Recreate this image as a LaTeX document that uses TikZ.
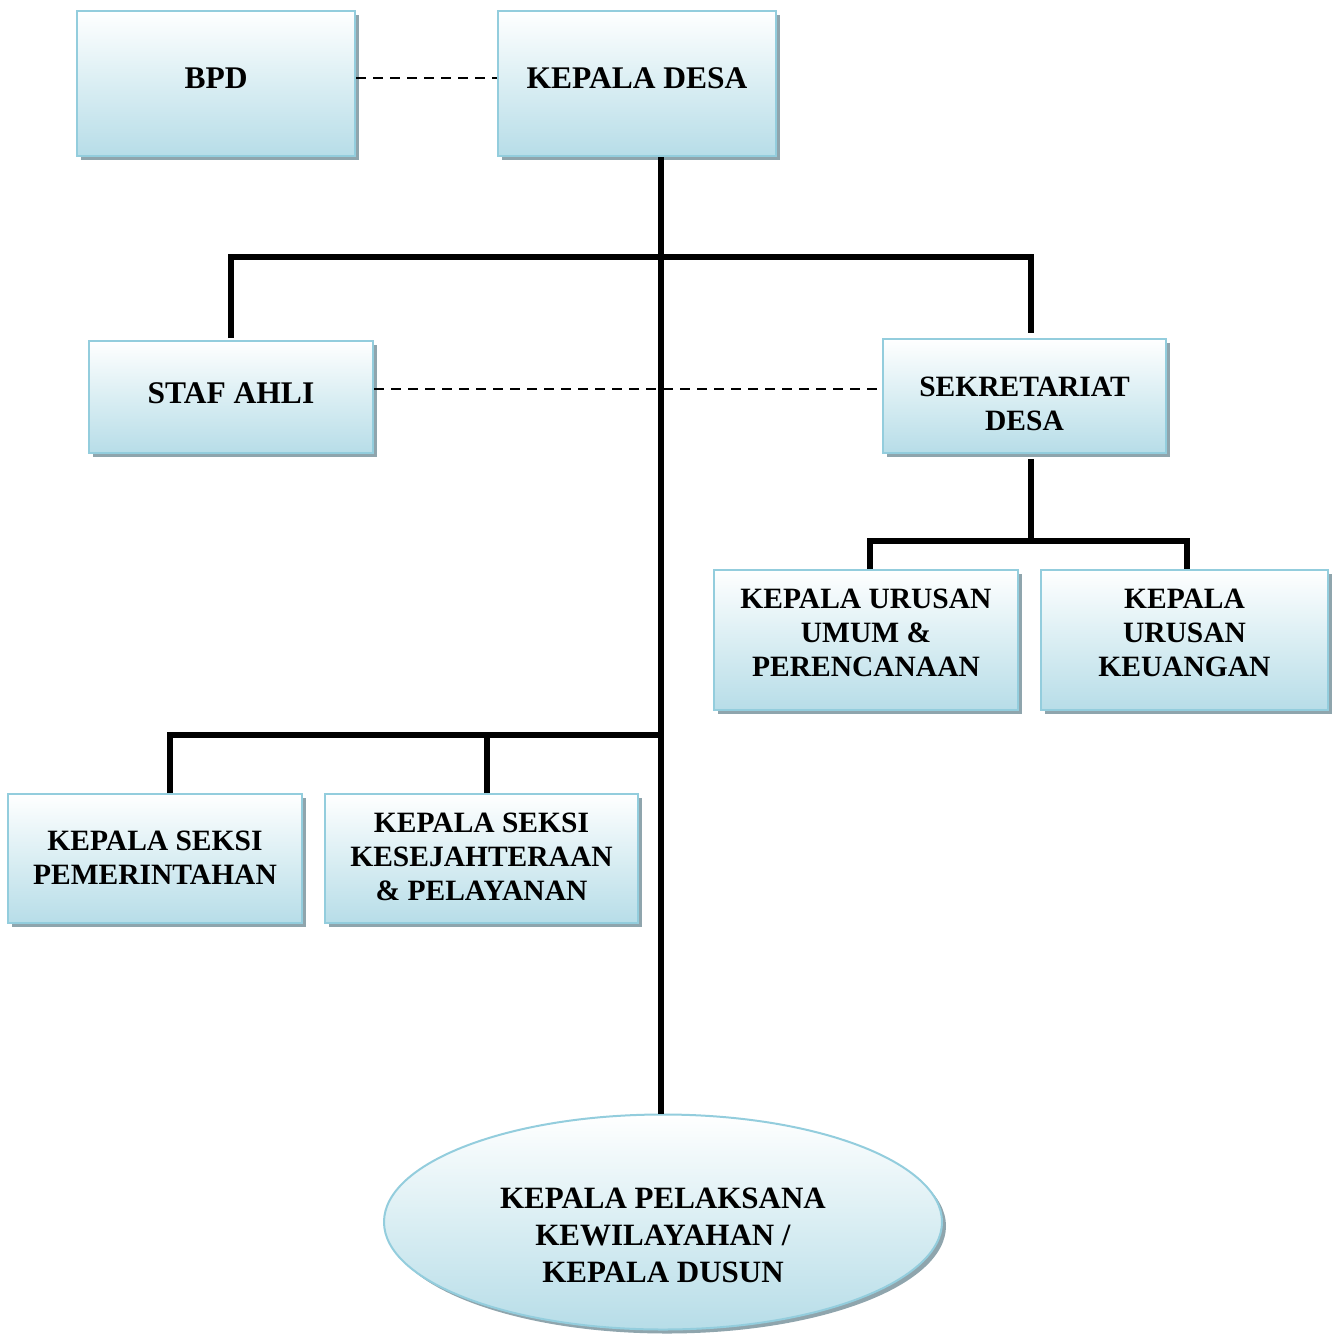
\documentclass[tikz,border=0pt]{standalone}
\usepackage{fontspec}
\setmainfont{Liberation Serif}
\usetikzlibrary{shapes.geometric,shadows}
\definecolor{boxblue}{HTML}{B7DDE8}
\definecolor{boxmid}{HTML}{DAEEF3}
\definecolor{boxborder}{HTML}{93CDDD}
\definecolor{shadowc}{HTML}{8FA5AD}
\tikzset{
  orgbox/.style={rectangle, draw=boxborder, line width=2pt,
    top color=white, bottom color=boxblue, middle color=boxmid,
    drop shadow={shadow xshift=4pt, shadow yshift=-4pt, fill=shadowc, opacity=1},
    inner sep=0pt},
  boxtext/.style={align=center, inner sep=0pt, font=\fontsize{29.5}{34}\selectfont\bfseries},
  bigtext/.style={align=center, inner sep=0pt, font=\fontsize{31.5}{36}\selectfont\bfseries},
  elltext/.style={align=center, inner sep=0pt, font=\fontsize{31}{37}\selectfont\bfseries},
  conn/.style={line width=5.5pt, draw=black},
  dashconn/.style={line width=2.8pt, draw=black, dash pattern=on 10pt off 7pt},
}
\begin{document}
\begin{tikzpicture}[x=1pt,y=-1pt]
\useasboundingbox (0,0) rectangle (1334,1334);
% boxes
\node[orgbox, minimum width=278pt, minimum height=145pt,
  label={[bigtext, yshift=5pt]center:BPD}] (bpd) at (216,83.5) {};
\node[orgbox, minimum width=278pt, minimum height=145pt,
  label={[bigtext, yshift=5pt]center:KEPALA DESA}] (kades) at (637,83.5) {};
\node[orgbox, minimum width=284pt, minimum height=112pt,
  label={[bigtext, yshift=4pt]center:STAF AHLI}] (staf) at (231,397) {};
\node[orgbox, minimum width=283pt, minimum height=114pt,
  label={[boxtext, yshift=-8pt]center:SEKRETARIAT\\DESA}] (sek) at (1024.5,396) {};
\node[orgbox, minimum width=304pt, minimum height=140pt,
  label={[boxtext, yshift=7pt]center:KEPALA URUSAN\\UMUM \&\\PERENCANAAN}] (kaur1) at (866,640) {};
\node[orgbox, minimum width=287pt, minimum height=140pt,
  label={[boxtext, yshift=7pt]center:KEPALA\\URUSAN\\KEUANGAN}] (kaur2) at (1184.5,640) {};
\node[orgbox, minimum width=294pt, minimum height=129pt,
  label={[boxtext, yshift=1pt]center:KEPALA SEKSI\\PEMERINTAHAN}] (kasi1) at (155,858.5) {};
\node[orgbox, minimum width=313pt, minimum height=129pt,
  label={[boxtext, yshift=2pt]center:KEPALA SEKSI\\KESEJAHTERAAN\\\& PELAYANAN}] (kasi2) at (481.5,858.5) {};
\node[orgbox, ellipse, minimum width=558pt, minimum height=215pt,
  label={[elltext, yshift=-13pt]center:KEPALA PELAKSANA\\KEWILAYAHAN /\\KEPALA DUSUN}] (dusun) at (663,1222) {};
% coordinates of bus junctions
\coordinate (trunk) at (661,0);
\coordinate (busA) at (661,257);
\coordinate (busB) at (1031,541);
\coordinate (busC) at (664,735);
% dashed links
\draw[dashconn] ([yshift=5.5pt]bpd.east) -- ([yshift=5.5pt]kades.west);
\draw[dashconn] ([yshift=8pt]staf.east) -- ([yshift=8pt]staf.east -| sek.west);
% trunk
\draw[conn] (kades.south -| trunk) -- (dusun.north -| trunk);
% upper bus
\draw[conn] ([yshift=2pt]staf.north) |- (busA) -| ([xshift=6.5pt,yshift=5pt]sek.north);
% secretariat bus
\draw[conn] ([xshift=6.5pt,yshift=-5pt]sek.south) -- (busB);
\draw[conn] ([xshift=4pt]kaur1.north) |- (busB) -| ([xshift=2.5pt]kaur2.north);
% lower bus
\draw[conn] ([xshift=15pt]kasi1.north) |- (busC);
\draw[conn] ([xshift=5.5pt]kasi2.north) |- (busC);
\end{tikzpicture}
\end{document}
